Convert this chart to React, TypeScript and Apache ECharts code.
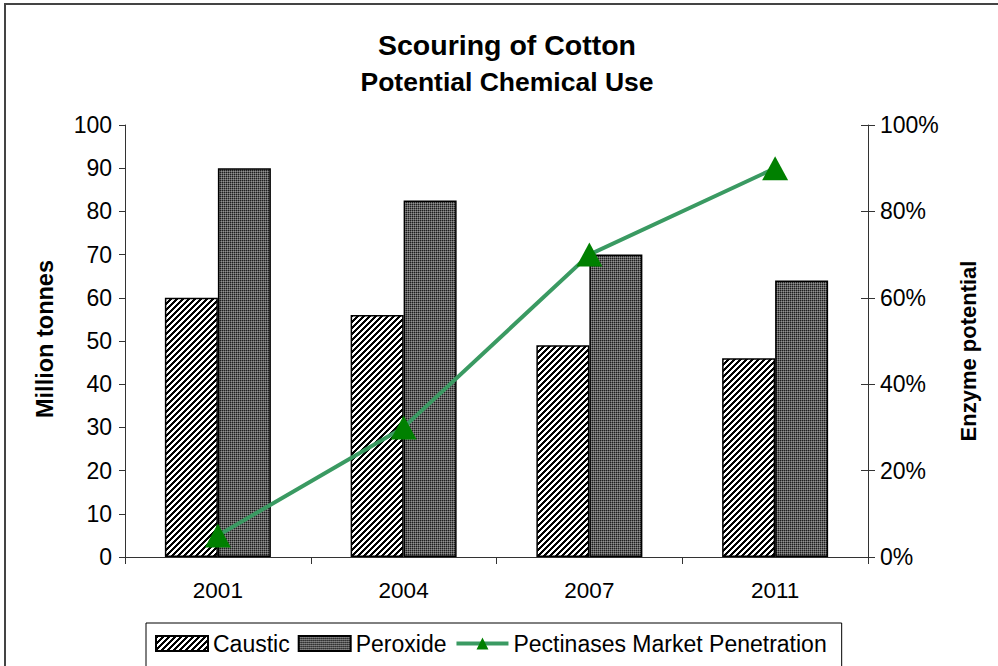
import React, { useEffect, useRef } from "react";
import * as echarts from "echarts";

const categories = ["2001", "2004", "2007", "2011"];
const causticValues = [60, 56, 49, 46];
const peroxideValues = [90, 82.5, 70, 64];
const pectinasePct = [5, 30, 70, 90];
const leftTicks = { min: 0, max: 100, interval: 10 };
const rightTicks = { min: 0, max: 100, interval: 20 };

function makeHatch(): string {
  const c = document.createElement("canvas");
  c.width = 6;
  c.height = 6;
  const ctx = c.getContext("2d")!;
  const img = ctx.createImageData(6, 6);
  for (let y = 0; y < 6; y++) {
    for (let x = 0; x < 6; x++) {
      const black = (x + y) % 6 < 3;
      const i = (y * 6 + x) * 4;
      const v = black ? 0 : 255;
      img.data[i] = v;
      img.data[i + 1] = v;
      img.data[i + 2] = v;
      img.data[i + 3] = 255;
    }
  }
  ctx.putImageData(img, 0, 0);
  return c.toDataURL();
}

function makeChecker(): string {
  const c = document.createElement("canvas");
  c.width = 4;
  c.height = 4;
  const ctx = c.getContext("2d")!;
  const img = ctx.createImageData(4, 4);
  for (let y = 0; y < 4; y++) {
    for (let x = 0; x < 4; x++) {
      let v = 95;
      if ((x + y) % 2 === 0) v = 60;
      if (x % 2 === 1 && y % 2 === 1) v = 145;
      if (x % 2 === 0 && y % 2 === 0) v = 30;
      const i = (y * 4 + x) * 4;
      img.data[i] = v;
      img.data[i + 1] = v;
      img.data[i + 2] = v;
      img.data[i + 3] = 255;
    }
  }
  ctx.putImageData(img, 0, 0);
  return c.toDataURL();
}

const FONT = "'Liberation Sans', Arial, sans-serif";

export default function App() {
  const ref = useRef<HTMLDivElement>(null);
  useEffect(() => {
    if (!ref.current) return;
    const chart = echarts.init(ref.current, undefined, { renderer: "svg" });
    const hatch = { image: makeHatch(), repeat: "repeat", imageWidth: 6, imageHeight: 6 } as any;
    const checker = { image: makeChecker(), repeat: "repeat", imageWidth: 4, imageHeight: 4 } as any;
    const axisLine = { show: true, lineStyle: { color: "#333", width: 1 } };
    chart.setOption({
      animation: false,
      backgroundColor: "#fff",
      textStyle: { fontFamily: FONT },
      graphic: [
        {
          type: "rect",
          shape: { x: 5, y: 4, width: 1100, height: 800 },
          style: { fill: "none", stroke: "#444", lineWidth: 2 },
          silent: true,
        },
        {
          type: "text",
          x: 507,
          y: 45,
          style: {
            text: "Scouring of Cotton",
            font: `bold 28.5px ${FONT}`,
            fill: "#000",
            align: "center",
            verticalAlign: "middle",
          },
        },
        {
          type: "text",
          x: 507,
          y: 82,
          style: {
            text: "Potential Chemical Use",
            font: `bold 26.5px ${FONT}`,
            fill: "#000",
            align: "center",
            verticalAlign: "middle",
          },
        },
        {
          type: "text",
          x: 45,
          y: 339,
          rotation: Math.PI / 2,
          style: {
            text: "Million tonnes",
            font: `bold 23.5px ${FONT}`,
            fill: "#000",
            align: "center",
            verticalAlign: "middle",
          },
        },
        {
          type: "text",
          x: 968,
          y: 351,
          rotation: Math.PI / 2,
          style: {
            text: "Enzyme potential",
            font: `bold 22px ${FONT}`,
            fill: "#000",
            align: "center",
            verticalAlign: "middle",
          },
        },
      ],
      grid: { left: 125, right: 130, top: 125, bottom: 109 },
      legend: {
        top: 623,
        left: 146,
        padding: [9, 15, 30, 9],
        borderColor: "#000",
        borderWidth: 1,
        itemWidth: 52,
        itemHeight: 15,
        itemGap: 8,
        lineStyle: { width: 4 },
        textStyle: { fontSize: 23, color: "#000", fontFamily: FONT },
        data: [
          { name: "Caustic", icon: "rect" },
          { name: "Peroxide", icon: "rect" },
          { name: "Pectinases Market Penetration" },
        ],
      },
      xAxis: {
        type: "category",
        data: categories,
        axisLine,
        axisTick: { show: true, length: 7, lineStyle: { color: "#333" } },
        axisLabel: { fontSize: 22.5, color: "#000", margin: 22, fontFamily: FONT },
        splitLine: { show: false },
      },
      yAxis: [
        {
          type: "value",
          position: "left",
          ...leftTicks,
          axisLine,
          axisTick: { show: true, length: 6, lineStyle: { color: "#333" } },
          axisLabel: { fontSize: 23, color: "#000", margin: 13, fontFamily: FONT },
          splitLine: { show: false },
        },
        {
          type: "value",
          position: "right",
          ...rightTicks,
          axisLine,
          axisTick: { show: true, length: 7, lineStyle: { color: "#333" } },
          axisLabel: { fontSize: 23, color: "#000", margin: 12, formatter: "{value}%", fontFamily: FONT },
          splitLine: { show: false },
        },
        {
          type: "value",
          position: "right",
          ...rightTicks,
          axisLine: { show: false },
          axisTick: { show: true, inside: true, length: 7, lineStyle: { color: "#333" } },
          axisLabel: { show: false },
          splitLine: { show: false },
        },
      ],
      series: [
        {
          name: "Caustic",
          type: "bar",
          yAxisIndex: 0,
          data: causticValues,
          barWidth: 53,
          barGap: "0%",
          itemStyle: { color: hatch, borderColor: "#000", borderWidth: 1.5 },
        },
        {
          name: "Peroxide",
          type: "bar",
          yAxisIndex: 0,
          data: peroxideValues,
          barWidth: 53,
          barGap: "0%",
          itemStyle: { color: checker, borderColor: "#000", borderWidth: 1.5 },
        },
        {
          name: "Pectinases Market Penetration",
          type: "line",
          yAxisIndex: 1,
          data: pectinasePct,
          symbol: "triangle",
          symbolSize: [26, 24],
          lineStyle: { color: "#3a9a62", width: 4 },
          itemStyle: { color: "#008000", borderWidth: 0 },
          z: 5,
        },
      ],
    });
    return () => chart.dispose();
  }, []);
  return (
    <div
      ref={ref}
      style={{ position: "absolute", left: 0, top: 0, width: 998, height: 666 }}
    />
  );
}
